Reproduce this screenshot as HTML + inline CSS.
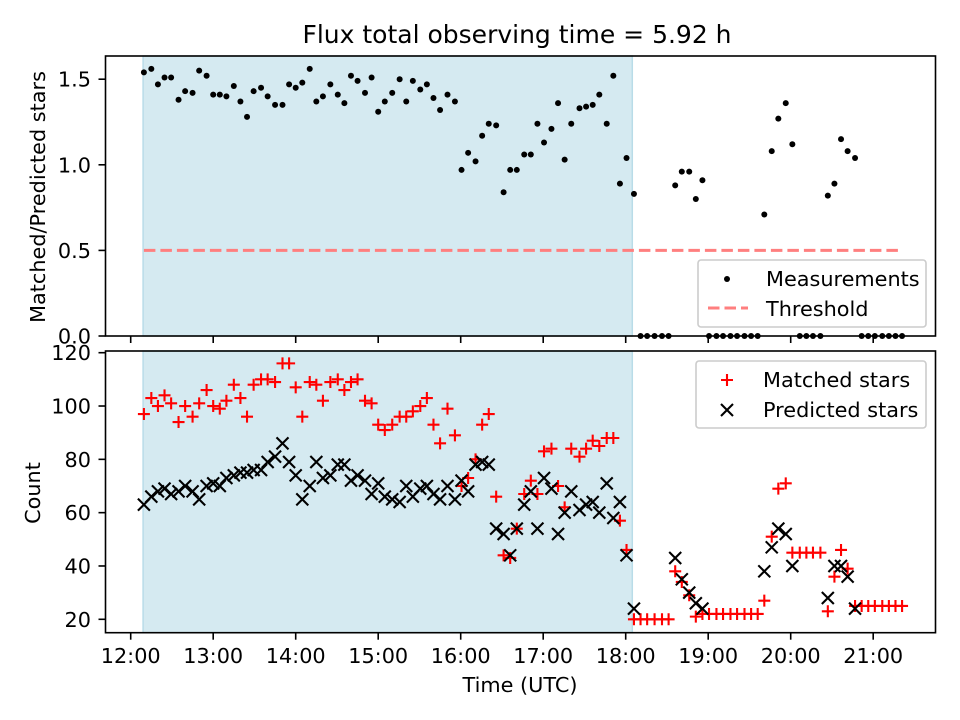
<!DOCTYPE html>
<html><head><meta charset="utf-8"><style>
body{margin:0;background:#fff;}
svg{font-family:"DejaVu Sans","Liberation Sans",sans-serif;}
</style></head><body>
<svg id="c" width="960" height="720" viewBox="0 0 960 720" xmlns="http://www.w3.org/2000/svg" style="position:absolute;left:0;top:0"></svg>
<script>
const times=[12.16,12.25,12.33,12.41,12.49,12.58,12.66,12.75,12.83,12.92,
13.00,13.08,13.16,13.25,13.33,13.41,13.49,13.58,13.66,13.75,
13.84,13.92,14.00,14.08,14.17,14.25,14.33,14.42,14.51,14.59,
14.67,14.75,14.84,14.92,15.00,15.08,15.17,15.26,15.34,15.42,
15.51,15.59,15.67,15.75,15.84,15.93,16.01,16.09,16.18,16.26,
16.34,16.43,16.52,16.60,16.68,16.77,16.85,16.93,17.01,17.10,
17.18,17.26,17.34,17.44,17.52,17.60,17.68,17.77,17.85,17.93,
18.01,18.10,
18.18,18.26,18.35,18.44,18.52,
18.60,18.68,18.77,18.85,18.93,
19.01,19.10,19.18,19.27,19.35,19.44,19.52,19.60,
19.68,19.77,19.85,19.94,20.02,
20.11,20.19,20.27,20.36,
20.45,20.53,20.61,20.69,20.78,
20.86,20.94,21.02,21.11,21.19,21.27,21.35];
const ratio=[1.54,1.56,1.47,1.51,1.51,1.38,1.43,1.42,1.55,1.52,
1.41,1.41,1.40,1.46,1.37,1.28,1.43,1.45,1.40,1.35,
1.35,1.47,1.45,1.48,1.56,1.37,1.40,1.47,1.41,1.36,
1.52,1.49,1.42,1.51,1.31,1.37,1.42,1.50,1.37,1.49,
1.44,1.47,1.39,1.32,1.41,1.37,0.97,1.07,1.02,1.17,
1.24,1.23,0.84,0.97,0.97,1.06,1.06,1.24,1.13,1.21,
1.36,1.03,1.24,1.33,1.34,1.35,1.41,1.24,1.52,0.89,
1.04,0.83,
0,0,0,0,0,
0.88,0.96,0.96,0.80,0.91,
0,0,0,0,0,0,0,0,
0.71,1.08,1.27,1.36,1.12,
0,0,0,0,
0.82,0.89,1.15,1.08,1.04,
0,0,0,0,0,0,0];
const matched=[97,103,100,104,101,94,100,96,101,106,
100,99,102,108,103,96,108,110,110,109,
116,116,107,96,109,108,102,109,110,106,
109,110,102,101,93,91,93,96,96,98,
100,103,93,86,99,89,70,73,80,93,
97,66,44,43,54,67,72,67,83,84,
70,62,84,81,84,87,85,88,88,57,
46,20,
20,20,20,20,20,
38,34,29,21,22,
22,22,22,22,22,22,22,22,
27,51,69,71,45,
45,45,45,45,
23,36,46,39,25,
25,25,25,25,25,25,25];
const predicted=[63,66,68,69,67,68,70,68,65,70,
71,70,73,74,75,75,76,76,79,81,
86,79,74,65,70,79,73,74,78,78,
72,74,72,67,71,66,65,64,70,66,
69,70,67,65,70,65,72,68,78,79,
78,54,52,44,54,63,68,54,73,69,
52,60,68,61,63,64,60,71,58,64,
44,24,
null,null,null,null,null,
43,35,30,26,24,
null,null,null,null,null,null,null,null,
38,47,54,52,40,
null,null,null,null,
28,40,40,36,24,
null,null,null,null,null,null,null];
const xTicks=[12,13,14,15,16,17,18,19,20,21];
const xTickLabels=["12:00","13:00","14:00","15:00","16:00","17:00","18:00","19:00","20:00","21:00"];
const topTicks=[0,0.5,1.0,1.5];
const botTicks=[20,40,60,80,100,120];
const shadeStart=12.15, shadeEnd=18.08, threshold=0.5, thrStart=12.16, thrEnd=21.35;

const NS="http://www.w3.org/2000/svg";
const svg=document.getElementById('c');
function mk(tag,attrs,parent){const e=document.createElementNS(NS,tag);for(const k in attrs)e.setAttribute(k,attrs[k]);(parent||svg).appendChild(e);return e;}
const L=105.5,R=935.5,T1=56,B1=336,T2=351,B2=632.7;
const X=h=>130.7+(h-12)*82.5;
const Y1=v=>336-v*171.2;
const Y2=v=>619.3-(v-20)*2.666;

for(const [t,b,n] of [[T1,B1,'top-shaded-region'],[T2,B2,'bottom-shaded-region']]){
  const r=mk('rect',{x:X(shadeStart),y:t,width:X(shadeEnd)-X(shadeStart),height:b-t,fill:'#d5eaf1',stroke:'#b9dce8','stroke-width':1.5});
  
  
}
const th=mk('line',{x1:X(thrStart),x2:X(thrEnd),y1:Y1(threshold),y2:Y1(threshold),stroke:'#ff7f7f','stroke-width':3,'stroke-dasharray':'11.5,5'});


times.forEach((t,i)=>{
  const c=mk('circle',{cx:X(t),cy:Y1(ratio[i]),r:3,fill:'#000'});
  
  
});
times.forEach((t,i)=>{
  const x=X(t),y=Y2(matched[i]),s=6;
  const g=mk('path',{d:`M${x-s},${y}H${x+s}M${x},${y-s}V${y+s}`,stroke:'#f00','stroke-width':2.1});
  
  
});
times.forEach((t,i)=>{
  if(predicted[i]==null)return;
  const x=X(t),y=Y2(predicted[i]),s=6;
  const g=mk('path',{d:`M${x-s},${y-s}L${x+s},${y+s}M${x-s},${y+s}L${x+s},${y-s}`,stroke:'#000','stroke-width':2.1});
  
  
});
for(const [t,b,n] of [[T1,B1,'top-axes-frame'],[T2,B2,'bottom-axes-frame']]){
  const f=mk('rect',{x:L,y:t,width:R-L,height:b-t,fill:'none',stroke:'#000','stroke-width':1.6});
  
  
}
xTicks.forEach((h,i)=>{
  mk('line',{x1:X(h),x2:X(h),y1:B1,y2:B1+7,stroke:'#000','stroke-width':1.6});
  mk('line',{x1:X(h),x2:X(h),y1:B2,y2:B2+7,stroke:'#000','stroke-width':1.6});
  const tx=mk('text',{x:X(h),y:663,'font-size':20.8,'text-anchor':'middle'});
  tx.textContent=xTickLabels[i];
  
  
});
topTicks.forEach(v=>{
  mk('line',{x1:L-7,x2:L,y1:Y1(v),y2:Y1(v),stroke:'#000','stroke-width':1.6});
  const tx=mk('text',{x:91,y:Y1(v)+7.5,'font-size':20.8,'text-anchor':'end'});
  tx.textContent=v.toFixed(1);
  
  
});
botTicks.forEach(v=>{
  mk('line',{x1:L-7,x2:L,y1:Y2(v),y2:Y2(v),stroke:'#000','stroke-width':1.6});
  const tx=mk('text',{x:91,y:Y2(v)+7.5,'font-size':20.8,'text-anchor':'end'});
  tx.textContent=v;
  
  
});
</script>
<svg width="960" height="720" style="position:absolute;left:0;top:0" xmlns="http://www.w3.org/2000/svg" font-family="DejaVu Sans, Liberation Sans, sans-serif">
<text x="517" y="43" font-size="25" text-anchor="middle">Flux total observing time = 5.92 h</text>
<text transform="translate(45,197) rotate(-90)" font-size="20.8" text-anchor="middle">Matched/Predicted stars</text>
<text transform="translate(40,493) rotate(-90)" font-size="20.8" text-anchor="middle">Count</text>
<text x="520" y="692" font-size="20.8" text-anchor="middle">Time (UTC)</text>
<g>
<rect x="698" y="260" width="228" height="67" rx="3" fill="#fff" fill-opacity="0.8" stroke="#ccc" stroke-width="1.6"/>
<circle cx="727" cy="279" r="3" fill="#000"/>
<text x="766" y="286" font-size="20.8">Measurements</text>
<line x1="708" x2="748" y1="308" y2="308" stroke="#ff7f7f" stroke-width="3" stroke-dasharray="11.5,5"/>
<text x="766" y="316" font-size="20.8">Threshold</text>
</g>
<g>
<rect x="696" y="361" width="230" height="67" rx="3" fill="#fff" fill-opacity="0.8" stroke="#ccc" stroke-width="1.6"/>
<path d="M721,380H733M727,374V386" stroke="#f00" stroke-width="2.1"/>
<text x="763" y="387" font-size="20.8">Matched stars</text>
<path d="M721,404L733,416M721,416L733,404" stroke="#000" stroke-width="2.1"/>
<text x="763" y="417" font-size="20.8">Predicted stars</text>
</g>
</svg>
</body></html>
